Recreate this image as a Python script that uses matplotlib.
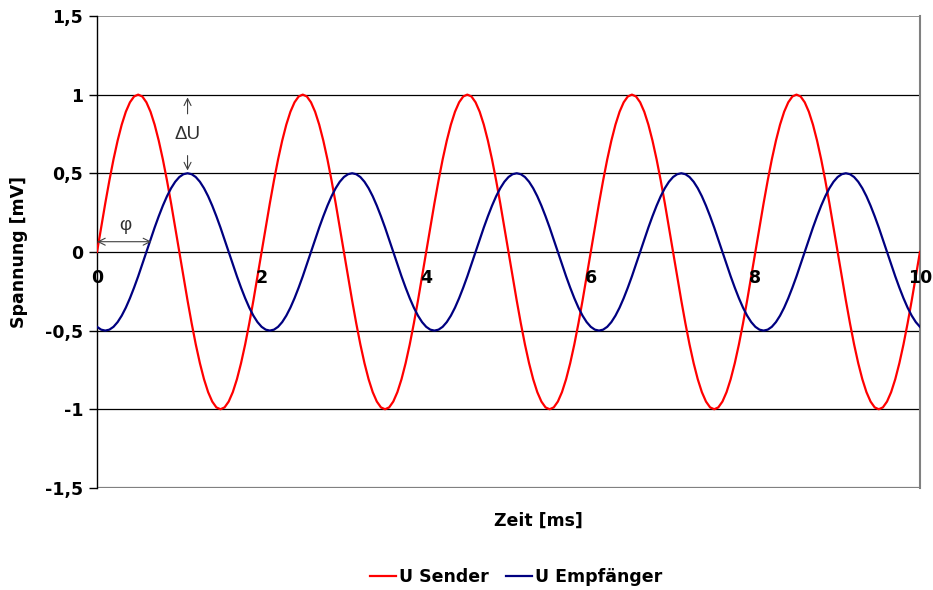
import matplotlib
matplotlib.use("Agg")
import matplotlib.pyplot as plt

plt.rcParams["font.family"] = ["DejaVu Sans"]

# time axis in ms, sampled every 0.05 ms
zeit = [i / 20 for i in range(201)]

# transmitted signal, one period = 2 ms
sender_period = [0, 0.156, 0.309, 0.454, 0.588, 0.707, 0.809, 0.891, 0.951, 0.988,
                 1, 0.988, 0.951, 0.891, 0.809, 0.707, 0.588, 0.454, 0.309, 0.156,
                 0, -0.156, -0.309, -0.454, -0.588, -0.707, -0.809, -0.891, -0.951, -0.988,
                 -1, -0.988, -0.951, -0.891, -0.809, -0.707, -0.588, -0.454, -0.309, -0.156]
u_sender = sender_period * 5 + [0]

# received signal, attenuated and shifted
empf_period = [-0.476, -0.494, -0.5, -0.494, -0.476, -0.446, -0.405, -0.354, -0.294, -0.227,
               -0.155, -0.078, 0, 0.078, 0.155, 0.227, 0.294, 0.354, 0.405, 0.446,
               0.476, 0.494, 0.5, 0.494, 0.476, 0.446, 0.405, 0.354, 0.294, 0.227,
               0.155, 0.078, 0, -0.078, -0.155, -0.227, -0.294, -0.354, -0.405, -0.446]
u_empfaenger = empf_period * 5 + [-0.476]

x_ticks = [0, 2, 4, 6, 8, 10]
y_ticks = [-1.5, -1, -0.5, 0, 0.5, 1, 1.5]
y_labels = ["-1,5", "-1", "-0,5", "0", "0,5", "1", "1,5"]

FS = 12.5

fig = plt.figure(figsize=(9.33, 5.9), dpi=100)
ax = fig.add_axes([0.104, 0.173, 0.882, 0.800])

for y in [-1, -0.5, 0, 0.5, 1]:
    ax.axhline(y, color="black", lw=0.9, zorder=1)
ax.axhline(1.5, color="#808080", lw=1.2, zorder=1)
ax.axhline(-1.5, color="#808080", lw=1.6, zorder=1)

ax.plot(zeit, u_sender, color="#ff0000", lw=1.6, label="U Sender", zorder=3)
ax.plot(zeit, u_empfaenger, color="#000080", lw=1.6, label="U Empfänger", zorder=3)

ax.set_xlim(0, 10)
ax.set_ylim(-1.5, 1.5)

ax.spines["top"].set_visible(False)
ax.spines["bottom"].set_visible(False)
ax.spines["right"].set_color("#808080")
ax.spines["right"].set_linewidth(1.5)
ax.spines["left"].set_color("black")
ax.spines["left"].set_linewidth(1.0)

# x tick labels sit just under the zero line
ax.set_xticks(x_ticks)
ax.set_xticklabels([])
ax.tick_params(axis="x", length=0)
for t in x_ticks:
    ax.text(t, -0.165, str(t), ha="center", va="center",
            fontweight="bold", fontsize=FS)

ax.set_yticks(y_ticks)
ax.set_yticklabels(y_labels, fontweight="bold", fontsize=FS)
ax.tick_params(axis="y", length=6, width=1.0, pad=4)

ax.set_ylabel("Spannung [mV]", fontweight="bold", fontsize=FS, labelpad=12)
fig.text(0.577, 0.118, "Zeit [ms]", ha="center", va="center",
         fontweight="bold", fontsize=FS)

# amplitude difference arrows
arrow_kw = dict(arrowstyle="->,head_length=0.5,head_width=0.25", color="#404040", lw=0.8)
ax.annotate("", xy=(1.1, 1.0), xytext=(1.1, 0.86), arrowprops=arrow_kw)
ax.annotate("", xy=(1.1, 0.5), xytext=(1.1, 0.63), arrowprops=arrow_kw)
ax.text(1.1, 0.745, "\u0394U", ha="center", va="center", fontsize=13.5,
        color="#303030", family="Liberation Sans")

# phase shift arrow
ax.annotate("", xy=(0.0, 0.065), xytext=(0.66, 0.065),
            arrowprops=dict(arrowstyle="<->,head_length=0.5,head_width=0.25",
                            color="#404040", lw=0.8, shrinkA=0, shrinkB=0))
ax.text(0.34, 0.17, "\u03c6", ha="center", va="center", fontsize=13.5,
        color="#303030", family="Liberation Sans")

fig.legend(loc="center", bbox_to_anchor=(0.553, 0.022), ncol=2, frameon=False,
           prop={"weight": "bold", "size": FS}, handlelength=1.5,
           handletextpad=0.15, columnspacing=1.0)

fig.savefig("out.png", dpi=100)
